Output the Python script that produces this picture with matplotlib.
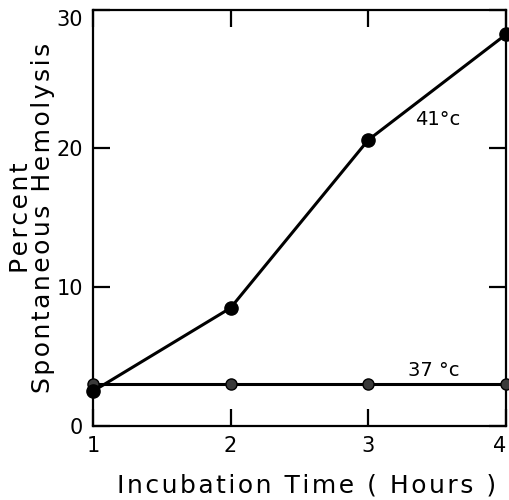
import matplotlib
matplotlib.use("Agg")
import matplotlib.pyplot as plt

# incubation time (hours) and percent spontaneous hemolysis
hours = [1, 2, 3, 4]
hemolysis_41 = [2.5, 8.5, 20.6, 28.2]
hemolysis_37 = [3.0, 3.0, 3.0, 3.0]

plt.rcParams['font.family'] = ['DejaVu Sans']


def spaced(s, gap='\u200a'):
    # widen the lettering a little, like the old typeset labels
    return '\n'.join(gap.join(line) for line in s.split('\n'))


fig = plt.figure(figsize=(5.1, 5.0), dpi=100)
ax = fig.add_axes([0.182, 0.148, 0.810, 0.833])

ax.plot(hours, hemolysis_37, color='black', lw=2.2, marker='o', ms=8,
        mfc='#3a3a3a', mec='black', clip_on=False, zorder=3)
ax.plot(hours, hemolysis_41, color='black', lw=2.2, marker='o', ms=9.5,
        mfc='black', mec='black', clip_on=False, zorder=4)

ax.text(3.34, 22.1, '41°c', fontsize=14, va='center', ha='left')
ax.text(3.29, 4.0, '37 °c', fontsize=14, va='center', ha='left')

ax.set_xlim(1, 4)
ax.set_ylim(0, 30)
ax.set_xticks(hours)
ax.set_yticks([0, 10, 20, 30])
ax.tick_params(direction='in', length=12, width=1.6, labelsize=15,
               top=True, right=True, pad=7)
ax.get_xticklabels()[-1].set_horizontalalignment('right')
ax.get_yticklabels()[-1].set_verticalalignment('top')
for side in ax.spines.values():
    side.set_linewidth(1.6)

ax.set_xlabel(spaced('Incubation Time ( Hours )'), fontsize=18)
ax.xaxis.set_label_coords(0.518, -0.115)
ax.set_ylabel(spaced('Percent\nSpontaneous Hemolysis'), fontsize=18,
              linespacing=0.9)
ax.yaxis.set_label_coords(-0.092, 0.5)

fig.savefig('out.png', dpi=100)
